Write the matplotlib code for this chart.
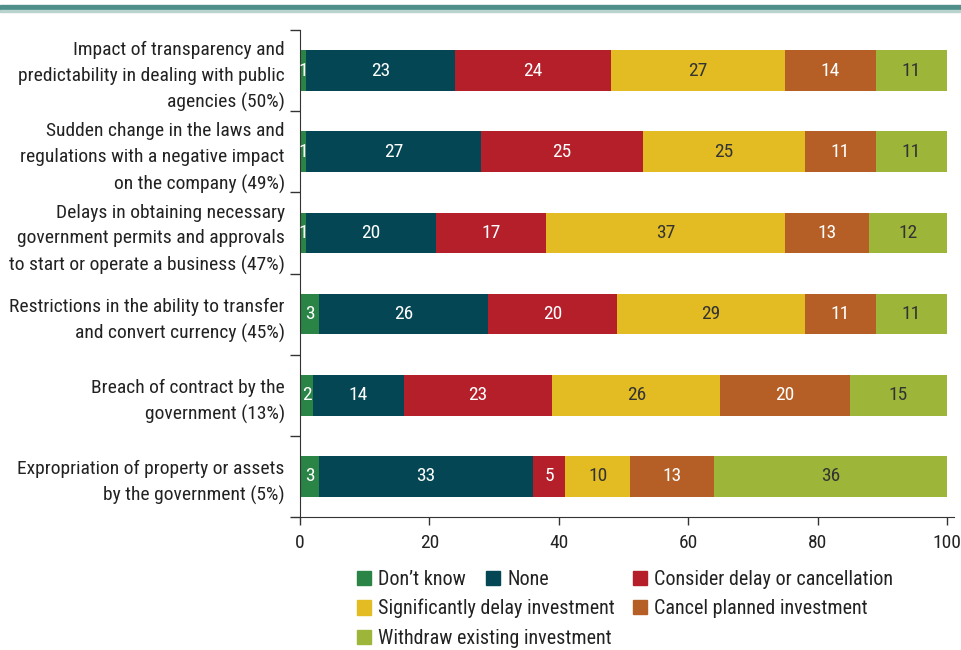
import matplotlib
matplotlib.use("Agg")
import matplotlib.pyplot as plt
from matplotlib.patches import Patch, Rectangle
import numpy as np

plt.rcParams["font.family"] = ["Roboto Condensed", "Roboto", "DejaVu Sans"]

categories = [
    "Impact of transparency and\npredictability in dealing with public\nagencies (50%)",
    "Sudden change in the laws and\nregulations with a negative impact\non the company (49%)",
    "Delays in obtaining necessary\ngovernment permits and approvals\nto start or operate a business (47%)",
    "Restrictions in the ability to transfer\nand convert currency (45%)",
    "Breach of contract by the\ngovernment (13%)",
    "Expropriation of property or assets\nby the government (5%)",
]

dont_know = [1, 1, 1, 3, 2, 3]
none = [23, 27, 20, 26, 14, 33]
consider = [24, 25, 17, 20, 23, 5]
sig_delay = [27, 25, 37, 29, 26, 10]
cancel = [14, 11, 13, 11, 20, 13]
withdraw = [11, 11, 12, 11, 15, 36]

series = [
    ("Don\u2019t know", dont_know, "#2a8446", "white"),
    ("None", none, "#044654", "white"),
    ("Consider delay or cancellation", consider, "#b41f2a", "white"),
    ("Significantly delay investment", sig_delay, "#e2bc22", "#333333"),
    ("Cancel planned investment", cancel, "#b55f27", "white"),
    ("Withdraw existing investment", withdraw, "#9db63a", "#333333"),
]

fig = plt.figure(figsize=(9.62, 6.5), dpi=100)
ax = fig.add_axes([300 / 962, 1 - 517 / 650, 654 / 962, 487 / 650])

y = np.arange(len(categories))
left = np.zeros(len(categories))
for name, vals, color, tcolor in series:
    bars = ax.barh(y, vals, left=left, height=0.5, color=color, label=name)
    ax.bar_label(bars, labels=[str(v) for v in vals], label_type="center",
                 color=tcolor, fontsize=14)
    left += np.array(vals)

ax.set_ylim(len(categories) - 0.5, -0.5)
ax.set_xlim(0, 101.1)
ax.set_xticks([0, 20, 40, 60, 80, 100])
ax.set_yticks(y)
ax.set_yticklabels(categories, fontsize=14, linespacing=1.55, color="#222222")
ax.set_yticks(np.arange(-0.5, len(categories), 1), minor=True)
ax.tick_params(axis="y", which="major", length=0, pad=11)
ax.tick_params(axis="y", which="minor", length=7, width=1, color="#333333")
ax.tick_params(axis="x", length=6, width=1, color="#333333", labelsize=14, pad=6,
               labelcolor="#222222")
for s in ["top", "right"]:
    ax.spines[s].set_visible(False)
for s in ["left", "bottom"]:
    ax.spines[s].set_color("#333333")

# teal rule across the top
fig.patches.append(Rectangle((0, 1 - 10 / 650), 1, 5 / 650, transform=fig.transFigure,
                             color="#4e9089", zorder=0))
fig.patches.append(Rectangle((0, 1 - 11.5 / 650), 1, 1.5 / 650, transform=fig.transFigure,
                             color="#b9d3cf", zorder=0))

h = {name: Patch(color=color) for name, _, color, _ in series}
kw = dict(frameon=False, fontsize=14.5, handlelength=0.7, handleheight=0.7,
          handletextpad=0.35, borderpad=0, borderaxespad=0, labelspacing=0.52,
          loc="upper left", labelcolor="#222222")
names = [s[0] for s in series]
fig.legend([h[names[0]], h[names[1]]], names[0:2], ncol=2, columnspacing=1.0,
           bbox_to_anchor=(357 / 962, 1 - 570 / 650), **kw)
fig.legend([h[names[3]], h[names[5]]], [names[3], names[5]],
           bbox_to_anchor=(357 / 962, 1 - 599 / 650), **kw)
fig.legend([h[names[2]], h[names[4]]], [names[2], names[4]],
           bbox_to_anchor=(633 / 962, 1 - 570 / 650), **kw)

fig.savefig("out.png", dpi=100)
